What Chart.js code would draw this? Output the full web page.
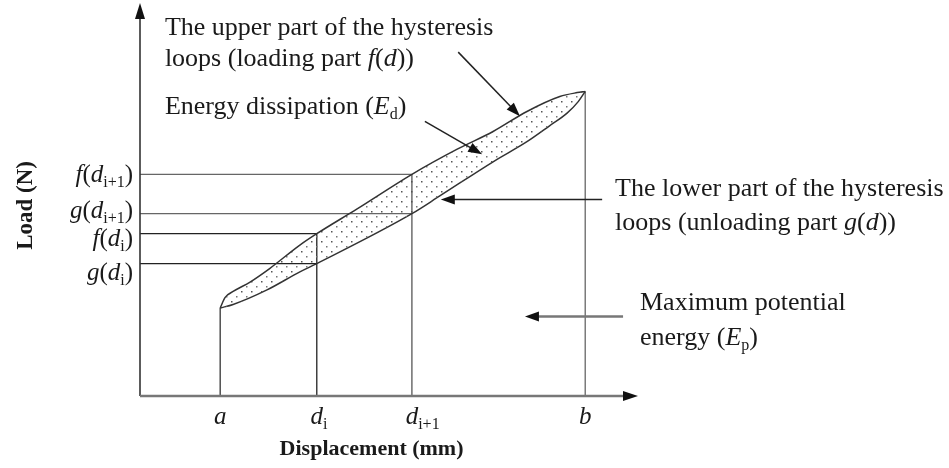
<!DOCTYPE html>
<html>
<head>
  <title>Hysteresis Loop Energy</title>
  <script src="https://cdn.jsdelivr.net/npm/chart.js"></script>
  <style>
    body { margin: 0; background: #fff; }
  </style>
</head>
<body>
  <canvas id="loop-chart" width="949" height="468"></canvas>
  <script>
    // loading branch of the loop, f(d)
    var loadingD = [16.1, 17.1, 18.7, 22.1, 26.1, 32.1, 35.5, 43.6, 54.6, 63.7, 70.9, 77.7, 84.3, 87.8, 89.4];
    var loadingF = [22.4, 25.1, 26.6, 29.0, 32.5, 38.4, 41.3, 47.6, 56.4, 62.8, 67.3, 72.4, 76.2, 77.2, 77.5];
    // unloading branch of the loop, g(d)
    var unloadingD = [16.1, 18.7, 25.5, 32.1, 35.5, 54.6, 60.2, 70.9, 77.7, 82.3, 85.7, 88.0, 89.4];
    var unloadingG = [22.4, 23.3, 27.0, 31.6, 33.7, 46.4, 50.9, 59.6, 64.7, 68.8, 71.9, 74.9, 77.5];

    // marked displacements a, d_i, d_i+1, b
    var xTickValues = [16.1, 35.5, 54.6, 89.4];
    var xTickLabels = ['*a*', '*d*_{i}', '*d*_{i+1}', '*b*'];
    var yTickLabels = ['*g*(*d*_{i})', '*f*(*d*_{i})', '*g*(*d*_{i+1})', '*f*(*d*_{i+1})'];

    function valueAt(ds, vs, d) { return vs[ds.indexOf(d)]; }
    function toPoints(ds, vs) { return ds.map(function (d, i) { return { x: d, y: vs[i] }; }); }

    var dI = xTickValues[1], dI1 = xTickValues[2];
    var yTickValues = [
      valueAt(unloadingD, unloadingG, dI),
      valueAt(loadingD, loadingF, dI),
      valueAt(unloadingD, unloadingG, dI1),
      valueAt(loadingD, loadingF, dI1)
    ];
    var yTickEnds = [dI, dI, dI1, dI1];

    var SERIF = '"Liberation Serif", "Times New Roman", serif';
    var INK = '#1a1a1a';

    // dotted fill for the dissipated-energy area
    function dotPattern() {
      var c = document.createElement('canvas');
      c.width = 10; c.height = 10;
      var g = c.getContext('2d');
      g.fillStyle = '#555';
      g.fillRect(1, 1, 1.5, 1.5);
      g.fillStyle = '#777';
      g.fillRect(6, 6, 1.5, 1.5);
      return g.createPattern(c, 'repeat');
    }

    // "*x*" is italic, "_{..}" is a subscript
    function parseRich(s) {
      var parts = [], re = /\*([^*]+)\*|_\{([^}]+)\}|([^*_]+)/g, m;
      while ((m = re.exec(s))) {
        if (m[1]) parts.push({ t: m[1], it: true });
        else if (m[2]) parts.push({ t: m[2], sub: true });
        else parts.push({ t: m[3] });
      }
      return parts;
    }

    function drawRich(ctx, s, x, y, size, align, weight) {
      var parts = parseRich(s);
      function font(p) {
        return (p.it ? 'italic ' : '') + (weight || '') + ' ' +
          (p.sub ? Math.round(size * 0.62) : size) + 'px ' + SERIF;
      }
      var w = 0;
      parts.forEach(function (p) { ctx.font = font(p); p.w = ctx.measureText(p.t).width; w += p.w; });
      var x0 = x;
      if (align === 'right') x0 = x - w;
      else if (align === 'center') x0 = x - w / 2;
      else if (align === 'first') x0 = x - parts[0].w / 2;
      var base = y + size * 0.32;
      ctx.textAlign = 'left';
      ctx.textBaseline = 'alphabetic';
      parts.forEach(function (p) {
        ctx.font = font(p);
        ctx.fillText(p.t, x0, base + (p.sub ? size * 0.2 : 0));
        x0 += p.w;
      });
    }

    function arrowHead(ctx, x1, y1, x2, y2, len, half) {
      var a = Math.atan2(y2 - y1, x2 - x1);
      ctx.beginPath();
      ctx.moveTo(x2, y2);
      ctx.lineTo(x2 - len * Math.cos(a) + half * Math.sin(a), y2 - len * Math.sin(a) - half * Math.cos(a));
      ctx.lineTo(x2 - len * Math.cos(a) - half * Math.sin(a), y2 - len * Math.sin(a) + half * Math.cos(a));
      ctx.closePath();
      ctx.fill();
    }

    // callout texts and their pointers, in data units
    var notes = [
      { lines: ['The upper part of the hysteresis', 'loops (loading part *f*(*d*))'], x: 5.0, y: 94.1, gap: 31 },
      { lines: ['Energy dissipation (*E*_{d})'], x: 5.0, y: 74.0, gap: 0 },
      { lines: ['The lower part of the hysteresis', 'loops (unloading part *g*(*d*))'], x: 95.4, y: 53.1, gap: 34 },
      { lines: ['Maximum potential', 'energy (*E*_{p})'], x: 100.4, y: 24.0, gap: 35 }
    ];
    var pointers = [
      { from: [63.9, 87.5], to: [76.3, 71.2], width: 1.5, color: '#222' },
      { from: [57.2, 69.9], to: [68.7, 61.5], width: 1.5, color: '#222' },
      { from: [92.8, 50.0], to: [60.4, 50.0], width: 1.5, color: '#222' },
      { from: [97.0, 20.2], to: [77.3, 20.2], width: 2.5, color: '#777' }
    ];

    var annotate = {
      id: 'annotate',
      afterDraw: function (chart) {
        var ctx = chart.ctx, xs = chart.scales.x, ys = chart.scales.y, area = chart.chartArea;
        ctx.save();

        // axes with arrow heads
        ctx.lineCap = 'butt';
        ctx.strokeStyle = '#333';
        ctx.lineWidth = 1.6;
        ctx.beginPath();
        ctx.moveTo(area.left, area.bottom);
        ctx.lineTo(area.left, area.top + 10);
        ctx.stroke();
        ctx.strokeStyle = '#777';
        ctx.lineWidth = 2.4;
        ctx.beginPath();
        ctx.moveTo(area.left, area.bottom);
        ctx.lineTo(area.right - 10, area.bottom);
        ctx.stroke();
        ctx.fillStyle = '#111';
        arrowHead(ctx, area.left, area.bottom, area.left, area.top, 16, 5);
        arrowHead(ctx, area.left, area.bottom, area.right, area.bottom, 15, 5);

        // pointers
        pointers.forEach(function (p) {
          var x1 = xs.getPixelForValue(p.from[0]), y1 = ys.getPixelForValue(p.from[1]);
          var x2 = xs.getPixelForValue(p.to[0]), y2 = ys.getPixelForValue(p.to[1]);
          var a = Math.atan2(y2 - y1, x2 - x1);
          ctx.strokeStyle = p.color;
          ctx.lineWidth = p.width;
          ctx.beginPath();
          ctx.moveTo(x1, y1);
          ctx.lineTo(x2 - 10 * Math.cos(a), y2 - 10 * Math.sin(a));
          ctx.stroke();
          ctx.fillStyle = '#111';
          arrowHead(ctx, x1, y1, x2, y2, 14, 5);
        });

        ctx.fillStyle = INK;
        // tick labels
        xTickValues.forEach(function (v, i) {
          drawRich(ctx, xTickLabels[i], xs.getPixelForValue(v), area.bottom + 20, 25, 'first');
        });
        var yShift = [8, 4, -4, 0];
        yTickValues.forEach(function (v, i) {
          drawRich(ctx, yTickLabels[i], area.left - 7, ys.getPixelForValue(v) + yShift[i], 25, 'right');
        });

        // axis titles
        drawRich(ctx, 'Displacement (mm)', xs.getPixelForValue(46.5), area.bottom + 52, 22, 'center', 'bold');
        ctx.save();
        ctx.translate(25, ys.getPixelForValue(48.5));
        ctx.rotate(-Math.PI / 2);
        drawRich(ctx, 'Load (N)', 0, 0, 23, 'center', 'bold');
        ctx.restore();

        // callouts
        notes.forEach(function (n) {
          var x = xs.getPixelForValue(n.x), y = ys.getPixelForValue(n.y);
          n.lines.forEach(function (line, i) {
            drawRich(ctx, line, x, y + i * n.gap, 26, 'left');
          });
        });
        ctx.restore();
      }
    };

    var datasets = [
      {
        label: 'Loading part f(d)',
        data: toPoints(loadingD, loadingF),
        borderColor: '#333',
        borderWidth: 1.5,
        backgroundColor: dotPattern(),
        fill: '+1',
        cubicInterpolationMode: 'monotone'
      },
      {
        label: 'Unloading part g(d)',
        data: toPoints(unloadingD, unloadingG),
        borderColor: '#333',
        borderWidth: 1.5,
        fill: false,
        cubicInterpolationMode: 'monotone'
      }
    ];

    // vertical guides from the displacement axis up to the loading branch
    var vColors = ['#333', '#222', '#555', '#666'];
    xTickValues.forEach(function (d, i) {
      datasets.push({
        data: [{ x: d, y: 0 }, { x: d, y: valueAt(loadingD, loadingF, d) }],
        borderColor: vColors[i],
        borderWidth: 1.3,
        fill: false
      });
    });
    // horizontal guides from the load axis to d_i and d_i+1
    var hColors = ['#222', '#222', '#666', '#666'];
    yTickValues.forEach(function (v, i) {
      datasets.push({
        data: [{ x: 0, y: v }, { x: yTickEnds[i], y: v }],
        borderColor: hColors[i],
        borderWidth: 1.3,
        fill: false
      });
    });

    var ctx = document.getElementById('loop-chart').getContext('2d');
    var chart = new Chart(ctx, {
      type: 'scatter',
      data: { datasets: datasets },
      options: {
        responsive: false,
        animation: false,
        showLine: true,
        elements: { point: { radius: 0, hoverRadius: 0 } },
        layout: { padding: { left: 140, top: 3, right: 311, bottom: 72 } },
        plugins: { legend: { display: false }, tooltip: { enabled: false } },
        scales: {
          x: { type: 'linear', min: 0, max: 100, display: false },
          y: { type: 'linear', min: 0, max: 100, display: false }
        }
      },
      plugins: [annotate]
    });
  </script>
</body>
</html>
